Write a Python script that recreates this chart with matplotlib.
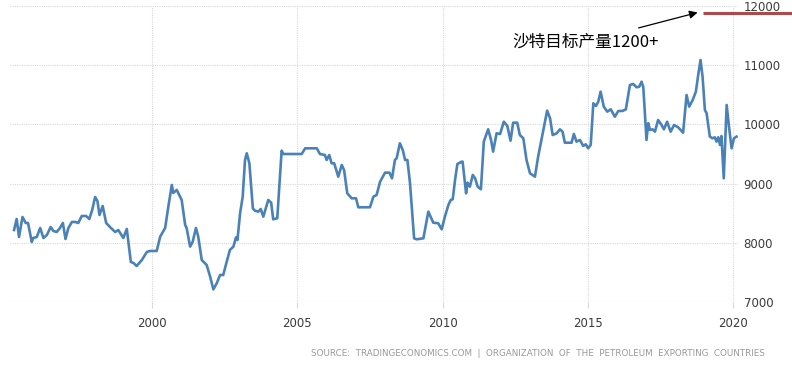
"""
Saudi Arabia crude oil production (monthly, kbpd) with the target annotation.
Output: out.png
"""
import matplotlib
matplotlib.use("Agg")
import matplotlib.pyplot as plt

plt.rcParams["font.family"] = ["DejaVu Sans"]

# ---------------------------------------------------------------------------
# data (decimal year, thousand barrels/day)
YEARS = [
    1995.25, 1995.34, 1995.42, 1995.54, 1995.65, 1995.73, 1995.86, 1995.91, 1996.03, 1996.15,
    1996.26, 1996.38, 1996.51, 1996.60, 1996.72, 1996.83, 1996.93, 1997.02, 1997.12, 1997.24,
    1997.35, 1997.46, 1997.58, 1997.73, 1997.84, 1997.94, 1998.04, 1998.12, 1998.19, 1998.30,
    1998.42, 1998.55, 1998.73, 1998.84, 1999.01, 1999.13, 1999.27, 1999.36, 1999.47, 1999.65,
    1999.82, 1999.93, 2000.16, 2000.28, 2000.45, 2000.56, 2000.68, 2000.73, 2000.85, 2001.02,
    2001.14, 2001.19, 2001.31, 2001.40, 2001.51, 2001.59, 2001.71, 2001.88, 2002.00, 2002.11,
    2002.23, 2002.34, 2002.45, 2002.57, 2002.68, 2002.80, 2002.89, 2002.94, 2003.03, 2003.12,
    2003.20, 2003.26, 2003.35, 2003.47, 2003.54, 2003.66, 2003.74, 2003.83, 2004.00, 2004.10,
    2004.17, 2004.31, 2004.46, 2004.52, 2005.15, 2005.27, 2005.67, 2005.78, 2005.95, 2006.01,
    2006.10, 2006.18, 2006.27, 2006.41, 2006.53, 2006.61, 2006.72, 2006.87, 2007.02, 2007.10,
    2007.50, 2007.62, 2007.73, 2007.85, 2008.02, 2008.17, 2008.26, 2008.36, 2008.42, 2008.53,
    2008.63, 2008.71, 2008.79, 2008.88, 2009.02, 2009.11, 2009.34, 2009.51, 2009.68, 2009.85,
    2009.97, 2010.08, 2010.20, 2010.28, 2010.35, 2010.43, 2010.51, 2010.66, 2010.69, 2010.81,
    2010.86, 2010.94, 2011.04, 2011.12, 2011.21, 2011.32, 2011.42, 2011.57, 2011.67, 2011.74,
    2011.86, 2011.98, 2012.11, 2012.23, 2012.34, 2012.43, 2012.57, 2012.66, 2012.78, 2012.89,
    2013.01, 2013.18, 2013.29, 2013.47, 2013.60, 2013.70, 2013.79, 2013.93, 2014.04, 2014.13,
    2014.21, 2014.44, 2014.52, 2014.61, 2014.73, 2014.84, 2014.93, 2015.01, 2015.10, 2015.19,
    2015.28, 2015.36, 2015.44, 2015.55, 2015.67, 2015.79, 2015.93, 2016.05, 2016.20, 2016.31,
    2016.45, 2016.56, 2016.68, 2016.77, 2016.85, 2016.91, 2017.02, 2017.08, 2017.14, 2017.23,
    2017.31, 2017.42, 2017.54, 2017.62, 2017.73, 2017.85, 2017.97, 2018.11, 2018.28, 2018.40,
    2018.49, 2018.61, 2018.72, 2018.80, 2018.88, 2018.95, 2019.03, 2019.09, 2019.20, 2019.29,
    2019.37, 2019.43, 2019.49, 2019.55, 2019.60, 2019.68, 2019.78, 2019.86, 2019.95, 2020.03,
    2020.12,
]
PRODUCTION = [
    8216, 8402, 8098, 8436, 8335, 8335, 8014, 8081, 8098, 8250,
    8081, 8132, 8267, 8200, 8183, 8250, 8335, 8064, 8250, 8352,
    8352, 8335, 8453, 8453, 8402, 8555, 8774, 8706, 8470, 8622,
    8335, 8267, 8183, 8216, 8081, 8233, 7676, 7659, 7608, 7710,
    7845, 7862, 7862, 8104, 8250, 8610, 8977, 8842, 8893, 8723,
    8301, 8250, 7935, 8019, 8250, 8104, 7710, 7625, 7428, 7213,
    7320, 7456, 7456, 7681, 7879, 7935, 8093, 8048, 8498, 8779,
    9399, 9512, 9343, 8582, 8543, 8526, 8571, 8442, 8723, 8678,
    8397, 8414, 9556, 9500, 9500, 9596, 9596, 9500, 9483, 9399,
    9483, 9343, 9343, 9117, 9315, 9230, 8836, 8752, 8752, 8600,
    8600, 8779, 8808, 9033, 9185, 9185, 9089, 9399, 9428, 9681,
    9568, 9399, 9399, 9004, 8076, 8059, 8076, 8526, 8340, 8330,
    8228, 8442, 8639, 8723, 8735, 9061, 9331, 9371, 9371, 8836,
    9016, 8948, 9146, 9089, 8948, 8904, 9709, 9917, 9737, 9540,
    9850, 9838, 10046, 9973, 9725, 10029, 10029, 9821, 9765, 9399,
    9174, 9117, 9455, 9906, 10232, 10104, 9821, 9850, 9917, 9877,
    9691, 9691, 9838, 9709, 9737, 9636, 9664, 9596, 9653, 10357,
    10311, 10384, 10553, 10300, 10215, 10255, 10130, 10227, 10227, 10255,
    10666, 10683, 10627, 10637, 10722, 10627, 9737, 10020, 9906, 9917,
    9877, 10074, 9990, 9917, 10046, 9877, 9990, 9951, 9860, 10497,
    10300, 10412, 10553, 10835, 11088, 10807, 10244, 10187, 9794, 9765,
    9782, 9709, 9782, 9653, 9804, 9089, 10328, 9962, 9596, 9765,
    9794,
]

X_TICKS = [2000, 2005, 2010, 2015, 2020]
Y_TICKS = [7000, 8000, 9000, 10000, 11000, 12000]

TARGET_LEVEL = 11890
TARGET_SPAN = (2018.96, 2022.2)
TARGET_LABEL = "沙特目标产量1200+"
SOURCE = "SOURCE:  TRADINGECONOMICS.COM  |  ORGANIZATION  OF  THE  PETROLEUM  EXPORTING  COUNTRIES"

C_LINE = "#4a82b8"
C_TARGET = "#b0474a"
C_GRID = "#d9d9d9"
C_TICK = "#3a3a3a"

# ---------------------------------------------------------------------------
fig = plt.figure(figsize=(7.92, 3.69), dpi=100)
ax = fig.add_axes([10 / 792, 1 - 302 / 369, 728 / 792, 296 / 369])

ax.plot(YEARS, PRODUCTION, color=C_LINE, linewidth=1.9, solid_joinstyle="round", zorder=3)

ax.set_xlim(1995.11, 2020.17)
ax.set_ylim(7000, 12000)
ax.set_xticks(X_TICKS)
ax.set_yticks(Y_TICKS)
ax.yaxis.tick_right()
ax.tick_params(axis="x", length=4, color=C_GRID, labelsize=8.5, labelcolor=C_TICK, pad=7)
ax.tick_params(axis="y", length=0, labelsize=8.5, labelcolor=C_TICK, pad=4)
for s in ax.spines.values():
    s.set_visible(False)
ax.grid(True, color=C_GRID, linestyle=(0, (1, 1)), linewidth=0.8)
ax.set_axisbelow(True)

# linha da meta + anotação
ax.plot(TARGET_SPAN, [TARGET_LEVEL, TARGET_LEVEL], color=C_TARGET, linewidth=2.2,
        clip_on=False, zorder=4, solid_capstyle="butt")
ax.annotate("", xy=(2018.78, TARGET_LEVEL), xytext=(2016.75, 11630),
            arrowprops=dict(arrowstyle="-|>", color="black", linewidth=0.9,
                            mutation_scale=12, shrinkA=0, shrinkB=0),
            annotation_clip=False)
ax.text(2012.42, 11390, TARGET_LABEL, fontsize=12, ha="left", va="center",
        family=["Noto Sans CJK SC", "DejaVu Sans"], color="black")

fig.text(765 / 792, 1 - 353 / 369, SOURCE, fontsize=6.3, color="#999999",
         ha="right", va="center")

fig.savefig("out.png", dpi=100)
